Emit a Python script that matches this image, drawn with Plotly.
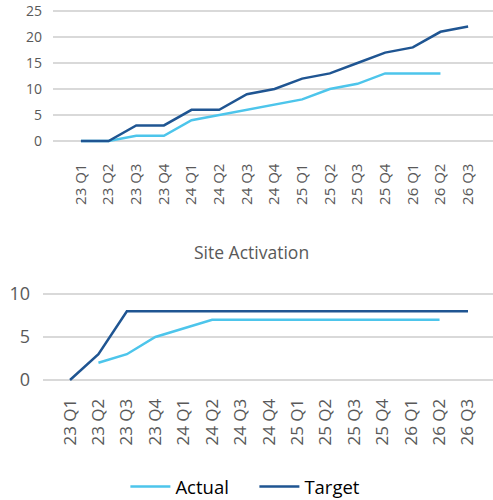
import plotly.graph_objects as go

# Data
quarters = ["23 Q1", "23 Q2", "23 Q3", "23 Q4", "24 Q1", "24 Q2", "24 Q3", "24 Q4",
            "25 Q1", "25 Q2", "25 Q3", "25 Q4", "26 Q1", "26 Q2", "26 Q3"]

# top chart (untitled)
top_actual = [0, 0, 1, 1, 4, 5, 6, 7, 8, 10, 11, 13, 13, 13, None]
top_target = [0, 0, 3, 3, 6, 6, 9, 10, 12, 13, 15, 17, 18, 21, 22]

# Site Activation
site_actual = [None, 2, 3, 5, 6, 7, 7, 7, 7, 7, 7, 7, 7, 7, None]
site_target = [0, 3, 8, 8, 8, 8, 8, 8, 8, 8, 8, 8, 8, 8, 8]

light = "#4DC5EB"
dark = "#1F5592"
grey = "#595959"
font = "Open Sans"

fig = go.Figure()
fig.add_trace(go.Scatter(x=quarters, y=top_actual, mode="lines", name="Actual",
                         line=dict(color=light, width=2.5), xaxis="x", yaxis="y",
                         legendgroup="a"))
fig.add_trace(go.Scatter(x=quarters, y=top_target, mode="lines", name="Target",
                         line=dict(color=dark, width=2.5), xaxis="x", yaxis="y",
                         legendgroup="t"))
fig.add_trace(go.Scatter(x=quarters, y=site_actual, mode="lines", name="Actual",
                         line=dict(color=light, width=2.5), xaxis="x2", yaxis="y2",
                         legendgroup="a", showlegend=False))
fig.add_trace(go.Scatter(x=quarters, y=site_target, mode="lines", name="Target",
                         line=dict(color=dark, width=2.5), xaxis="x2", yaxis="y2",
                         legendgroup="t", showlegend=False))

xcommon = dict(type="category", tickangle=-90, showgrid=False, showline=False,
               zeroline=False, ticks="", color=grey, automargin=False)
ycommon = dict(showgrid=True, gridcolor="#D9D9D9", gridwidth=1.5, zeroline=False,
               showline=False, ticks="", color=grey, automargin=False)

fig.update_layout(
    width=493, height=500,
    margin=dict(l=0, r=0, t=0, b=0, autoexpand=False),
    paper_bgcolor="white", plot_bgcolor="white",
    font=dict(family=font, color=grey),
    xaxis=dict(xcommon, domain=[53 / 493, 1], range=[-1.01, 14.9], anchor="y",
               tickfont=dict(size=15), ticklabelstandoff=16),
    yaxis=dict(ycommon, domain=[0.7128, 0.9832], range=[-0.5, 25.5], anchor="x",
               tickvals=[0, 5, 10, 15, 20, 25], tickfont=dict(size=14),
               ticklabelstandoff=10),
    xaxis2=dict(xcommon, domain=[43 / 493, 1], range=[-0.95, 14.88], anchor="y2",
                tickfont=dict(size=17), ticklabelstandoff=10),
    yaxis2=dict(ycommon, domain=[0.2314, 0.4206], range=[-0.5, 10.5], anchor="x2",
                tickvals=[0, 5, 10], tickfont=dict(size=18), ticklabelstandoff=12),
    showlegend=True,
    legend=dict(orientation="h", x=0.516, xanchor="center", y=0.026, yanchor="middle",
                font=dict(size=18.5, color="#000000"), itemwidth=40, entrywidth=74),
    annotations=[dict(text="Site Activation", x=0.51, y=1 - 252 / 500, xref="paper",
                      yref="paper", showarrow=False, xanchor="center", yanchor="middle",
                      font=dict(size=17.5, color=grey))],
)

fig.write_html("out.html", config={"displayModeBar": False},
               post_script="document.body.style.margin='0';")
